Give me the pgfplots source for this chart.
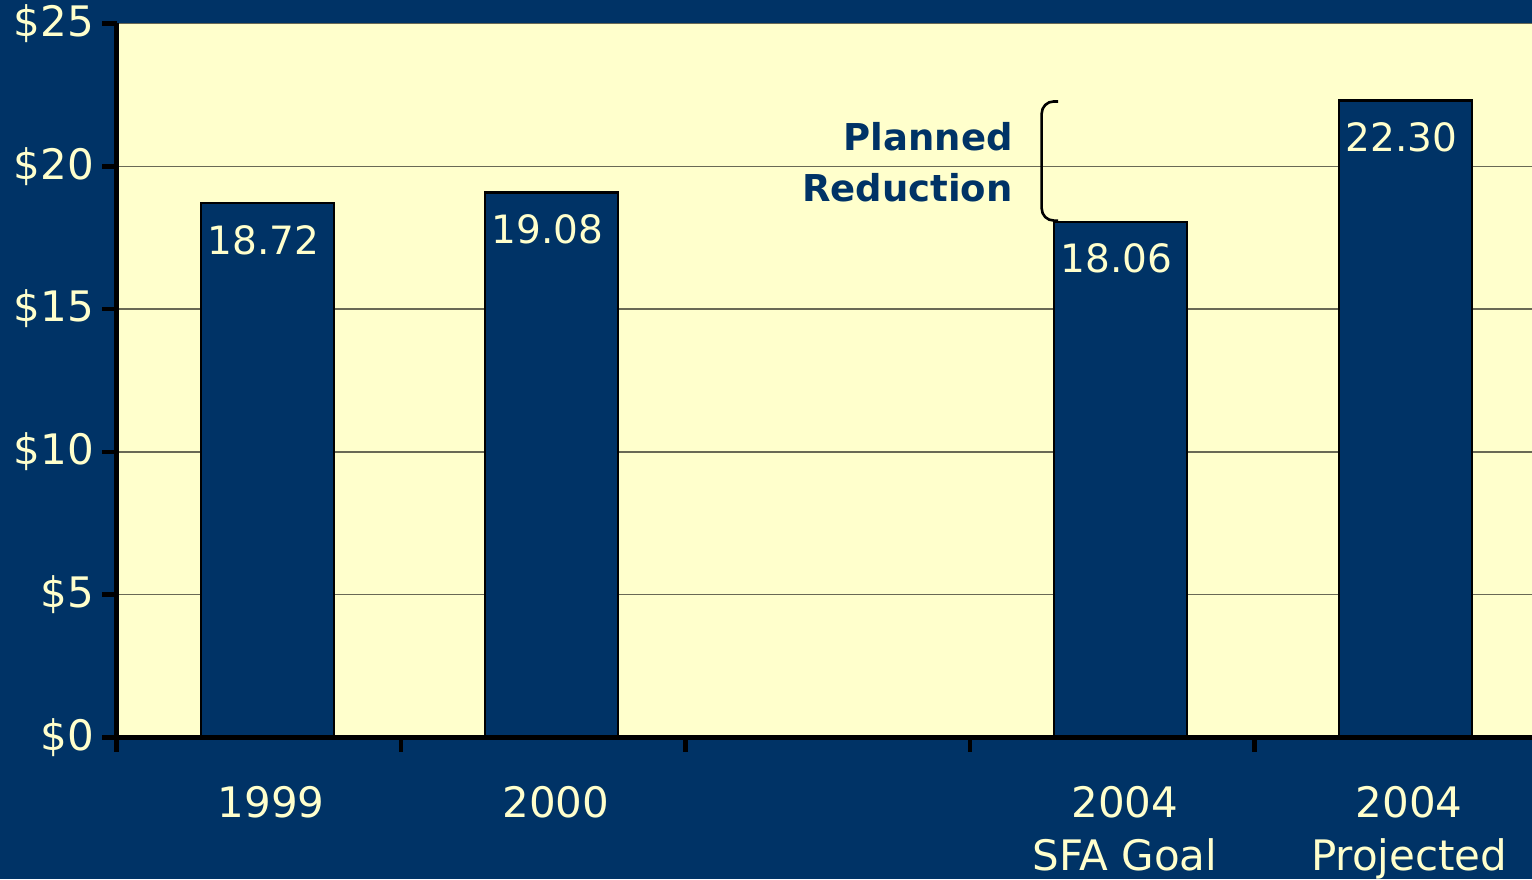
\documentclass[border=0pt]{standalone}
\usepackage{fontspec}
\setmainfont{DejaVu Sans}
\usepackage{pgfplots}
\pgfplotsset{compat=1.18}
\definecolor{navy}{RGB}{0,51,102}
\definecolor{plotbg}{RGB}{255,255,204}
\definecolor{gridc}{RGB}{105,105,85}
\begin{document}
\begin{tikzpicture}
\useasboundingbox (0,0) rectangle (766pt,439.5pt);
\clip (0,0) rectangle (766pt,439.5pt);
\fill[navy] (0,0) rectangle (766pt,439.5pt);
\begin{axis}[
  at={(58.25pt,70.75pt)}, anchor=south west,
  scale only axis, width=711.25pt, height=357pt,
  xmin=-0.5, xmax=4.5, ymin=0, ymax=25,
  clip=false,
  axis background/.style={fill=plotbg},
  axis x line=bottom, axis y line=left,
  axis line style={draw=none},
  /pgf/number format/assume math mode=true,
  ytick={0,5,10,15,20,25},
  yticklabels={\$0,\$5,\$10,\$15,\$20,\$25},
  ymajorgrids, grid style={line width=0.7pt, draw=gridc},
  xtick={0.03,1.03,3.03,4.03},
  xticklabels={1999,2000,{2004\\SFA Goal},{2004\\Projected}},
  minor xtick={-0.5,0.5,1.5,2.5,3.5,4.5},
  tick align=outside,
  major tick length=7pt, minor tick length=7pt,
  major x tick style={draw=none},
  major y tick style={line width=2.3pt, black},
  minor x tick style={line width=2.2pt, black},
  tick label style={font=\fontsize{21}{26.5}\selectfont, text=plotbg},
  xticklabel style={align=center, anchor=north, inner sep=0pt, yshift=-17pt, xshift=2pt},
  yticklabel style={anchor=east, inner sep=0pt, xshift=-4pt},
]
\addplot[ybar, bar width=0.4675, fill=navy, draw=black, line width=1.2pt,
  point meta=explicit symbolic, nodes near coords,
  every node near coord/.style={anchor=north, inner sep=0pt, yshift=-10.5pt, xshift=-2pt,
    text=plotbg, font=\fontsize{19.5}{24}\selectfont}]
  coordinates {(0.03,18.72)[18.72] (1.03,19.08)[19.08] (3.03,18.06)[18.06] (4.03,22.30)[22.30]};
\draw[line width=2.5pt, black] (axis cs:-0.5,25) -- (axis cs:-0.5,0) -- (axis cs:4.5,0);
\draw[line width=1.3pt, black, rounded corners=6pt]
  (axis cs:2.81,22.27) -- (axis cs:2.752,22.27) -- (axis cs:2.752,18.1) -- (axis cs:2.81,18.1);
\node[anchor=north east, align=right, inner sep=0pt, text=navy,
  font=\bfseries\fontsize{18.5}{25.5}\selectfont] at (axis cs:2.651,21.55) {Planned\\Reduction};
\end{axis}
\end{tikzpicture}
\end{document}
